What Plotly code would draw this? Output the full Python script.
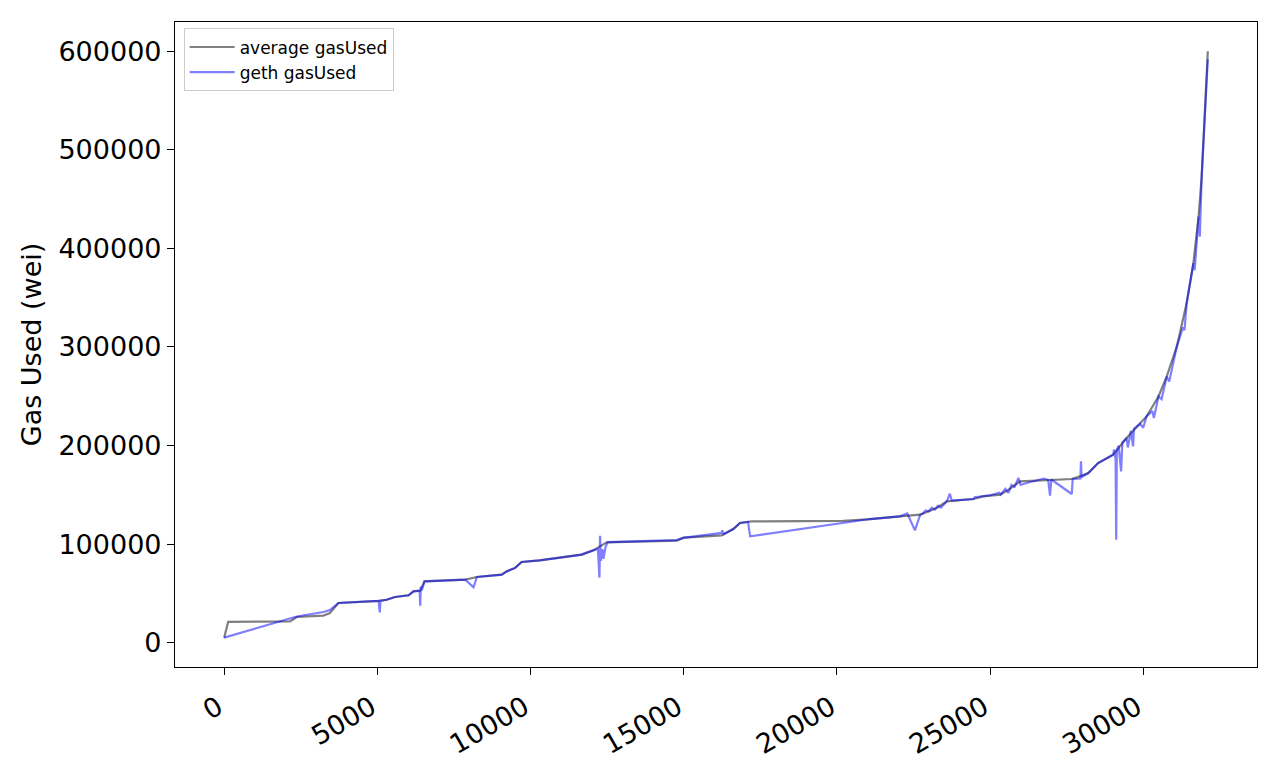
import plotly.graph_objects as go

# average gasUsed (gray)
avg_x = [0, 130, 2150, 2370, 3240, 3450, 3730, 5040, 5300, 5580, 6020, 6180, 6400, 6540,
         7870, 8250, 9060, 9220, 9500, 9710, 10300, 10800, 11670, 12050, 12490, 14770,
         15000, 16240, 16620, 16840, 17220, 20200, 21000, 22060, 22720, 23260, 23590,
         24460, 24780, 25330, 25600, 25980, 27670, 27940, 28210, 28530, 29020, 29460,
         30110, 30500, 30770, 31100, 31420, 31640, 31810, 31910, 32020, 32070, 32110]
avg_y = [5000, 21000, 21500, 26000, 27400, 30000, 40200, 42300, 43500, 46300, 48000, 52000,
         52700, 62200, 63900, 66600, 69000, 72300, 75800, 81800, 83500, 85900, 89300, 93600,
         101700, 103400, 106500, 108800, 115300, 121400, 123000, 123500, 125000, 128100,
         129800, 136600, 143300, 145700, 148400, 150100, 155000, 163600, 166000, 168700,
         172100, 182200, 190700, 207600, 229500, 249800, 270100, 300600, 344500, 385100,
         432400, 473000, 533800, 574400, 600000]

# geth gasUsed (blue)
geth_x = [0, 2100, 2370, 3240, 3450, 3730, 5040, 5080, 5100, 5300, 5580, 6020, 6180, 6380,
          6400, 6420, 6450, 6540, 7870, 8140, 8250, 9060, 9220, 9500, 9710, 10300, 10800,
          11670, 12050, 12200, 12250, 12270, 12300, 12350, 12380, 12450, 12520, 14770, 14990,
          16240, 16260, 16300, 16620, 16840, 17100, 17170, 21080, 22060, 22300, 22550, 22720,
          22800, 22900, 23000, 23100, 23200, 23300, 23400, 23590, 23690, 23750, 24460, 24500,
          24780, 25000, 25300, 25350, 25500, 25600, 25700, 25800, 25930, 26000, 26200, 26760,
          26900, 26960, 27000, 27670, 27700, 27950, 27970, 27990, 28210, 28530, 29020, 29050,
          29100, 29120, 29140, 29200, 29280, 29320, 29460, 29500, 29600, 29670, 29700, 29900,
          30000, 30110, 30300, 30350, 30500, 30600, 30770, 30850, 31100, 31300, 31350, 31420,
          31640, 31680, 31810, 31850, 31910, 32020, 32070, 32110]
geth_y = [5000, 24000, 26500, 31100, 33000, 40200, 42300, 30700, 42400, 43500, 46300, 48000,
          52000, 52700, 37500, 57000, 53000, 62200, 63900, 56100, 66600, 69000, 72300, 75800,
          81800, 83500, 85900, 89300, 93600, 95000, 66000, 108500, 83000, 95000, 85000, 97000,
          102000, 104000, 106200, 111300, 114000, 110000, 115300, 121400, 122500, 107800,
          125400, 128100, 131000, 113900, 129800, 131000, 134000, 133000, 137000, 135000,
          139000, 137000, 143300, 151100, 144000, 145700, 147500, 148400, 149500, 152000,
          150100, 156000, 152000, 160000, 158000, 167000, 160000, 162000, 166500, 165000,
          149100, 165500, 150800, 166000, 166500, 184000, 168000, 172100, 182200, 190700,
          196000, 186000, 104500, 195000, 200000, 173700, 203000, 207600, 198000, 215000,
          199100, 217000, 222000, 218000, 229500, 235000, 228000, 249800, 247000, 270100,
          265000, 300600, 320000, 317000, 344500, 385100, 378000, 432400, 412000, 473000,
          533800, 574400, 592000]

x_ticks = [0, 5000, 10000, 15000, 20000, 25000, 30000]
y_ticks = [0, 100000, 200000, 300000, 400000, 500000, 600000]

FONT = "DejaVu Sans"

fig = go.Figure()
fig.add_trace(go.Scatter(x=avg_x, y=avg_y, mode="lines", name="average gasUsed",
                         line=dict(color="rgba(0,0,0,0.5)", width=2.2)))
fig.add_trace(go.Scatter(x=geth_x, y=geth_y, mode="lines", name="geth gasUsed",
                         line=dict(color="rgba(0,0,255,0.5)", width=2.2)))

axis_common = dict(showline=True, linecolor="black", linewidth=1.2, mirror=True,
                   ticks="outside", ticklen=7, tickwidth=1.2, tickcolor="black",
                   showgrid=False, zeroline=False, automargin=False,
                   tickfont=dict(family=FONT, size=27, color="black"))

fig.update_layout(
    width=1280, height=768,
    margin=dict(l=175, r=23, t=22, b=101),
    paper_bgcolor="white", plot_bgcolor="white",
    font=dict(family=FONT, color="black"),
    xaxis=dict(range=[-1605, 33716], tickvals=x_ticks, ticktext=[str(v) for v in x_ticks],
               tickangle=-30, ticklabelshift=-6, ticklabelstandoff=6, **axis_common),
    yaxis=dict(range=[-24750, 629750], tickvals=y_ticks, ticktext=[str(v) for v in y_ticks],
               title=dict(text="Gas Used (wei)", font=dict(family=FONT, size=27, color="black"),
                          standoff=8),
               **axis_common),
    legend=dict(x=0.008, y=0.99, xanchor="left", yanchor="top",
                bgcolor="rgba(255,255,255,0.8)", bordercolor="#cccccc", borderwidth=1,
                font=dict(family=FONT, size=17, color="black"), tracegroupgap=0,
                itemwidth=45),
    showlegend=True,
)

fig.write_html("out.html")
